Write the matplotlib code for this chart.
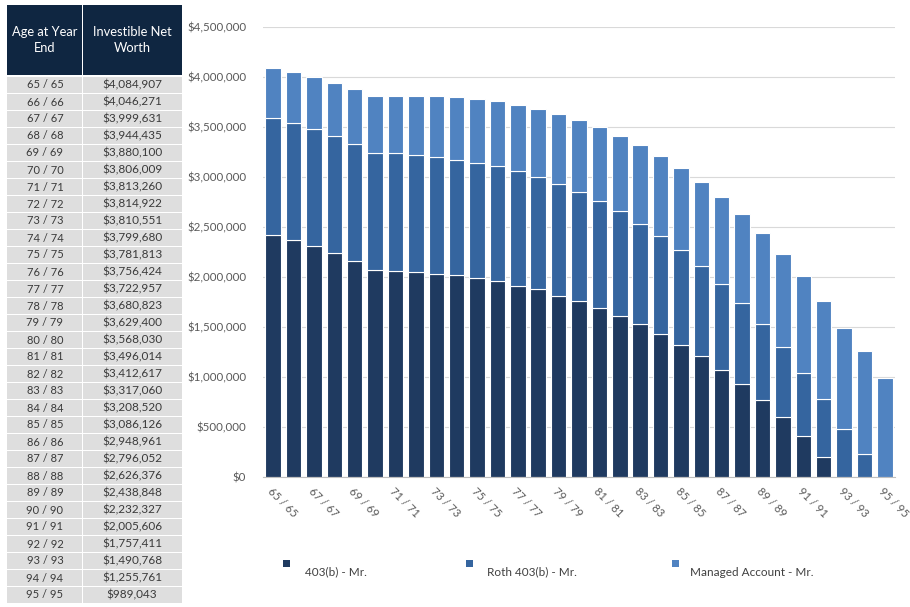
import matplotlib
matplotlib.use("Agg")
import matplotlib.pyplot as plt
from matplotlib.patches import Rectangle
from matplotlib.ticker import FuncFormatter

plt.rcParams['font.family'] = ['Lato', 'DejaVu Sans']

ages = [f"{a} / {a}" for a in range(65, 96)]
net_worth = [4084907, 4046271, 3999631, 3944435, 3880100, 3806009, 3813260, 3814922,
             3810551, 3799680, 3781813, 3756424, 3722957, 3680823, 3629400, 3568030,
             3496014, 3412617, 3317060, 3208520, 3086126, 2948961, 2796052, 2626376,
             2438848, 2232327, 2005606, 1757411, 1490768, 1255761, 989043]
b403 = [2425000, 2370000, 2310000, 2245000, 2160000, 2075000, 2065000, 2050000,
        2035000, 2020000, 1995000, 1960000, 1910000, 1880000, 1815000, 1765000,
        1695000, 1615000, 1530000, 1435000, 1325000, 1210000, 1070000, 930000,
        775000, 600000, 410000, 205000, 0, 0, 0]
roth = [1167000, 1172000, 1175000, 1167000, 1172000, 1167000, 1177000, 1175000,
        1163000, 1152000, 1150000, 1148000, 1148000, 1118000, 1113000, 1087000,
        1067000, 1043000, 1005000, 973000, 943000, 898000, 865000, 812000,
        757000, 702000, 635000, 573000, 485000, 228000, 0]
managed = [493000, 504000, 515000, 532000, 548000, 564000, 571000, 590000,
           613000, 628000, 637000, 648000, 665000, 683000, 701000, 716000,
           734000, 755000, 782000, 801000, 818000, 841000, 861000, 884000,
           907000, 930000, 961000, 979000, 1006000, 1028000, 989000]
series_names = ["403(b) - Mr.", "Roth 403(b) - Mr.", "Managed Account - Mr."]
colors = ["#1f3a60", "#35659f", "#5083c1"]
table_headers = ["Age at Year\nEnd", "Investible Net\nWorth"]

W, H = 910, 607
fig = plt.figure(figsize=(W / 100, H / 100), dpi=100)

def fx(x):
    return x / W

def fy(y):
    return 1 - y / H

# ---- table ----
hdr_col = "#0f2641"
fig.add_artist(Rectangle((fx(7), fy(75)), fx(175), 70 / H, transform=fig.transFigure,
                         facecolor=hdr_col, edgecolor="none"))
fig.add_artist(Rectangle((fx(81.5), fy(75)), fx(1.5), 70 / H, transform=fig.transFigure,
                         facecolor="white", edgecolor="none"))
fig.text(fx(45), fy(40), table_headers[0], color="white", ha="center", va="center",
         fontsize=9.3, linespacing=1.3)
fig.text(fx(132), fy(40), table_headers[1], color="white", ha="center", va="center",
         fontsize=9.3, linespacing=1.3)
row_h = 17.0
y0 = 77
for i, (lab, v) in enumerate(zip(ages, net_worth)):
    top = y0 + i * row_h
    for (x0, x1) in [(7, 81.5), (83, 182)]:
        fig.add_artist(Rectangle((fx(x0), fy(top + row_h - 1)), fx(x1 - x0), (row_h - 1) / H,
                                 transform=fig.transFigure, facecolor="#dedede",
                                 edgecolor="none"))
    fig.text(fx(45), fy(top + row_h / 2 - 0.5), lab, ha="center", va="center",
             fontsize=8.0, color="#3a3a3a")
    fig.text(fx(132), fy(top + row_h / 2 - 0.5), f"${v:,.0f}", ha="center", va="center",
             fontsize=8.5, color="#3a3a3a")

# ---- chart ----
ax = fig.add_axes([fx(263), fy(477), (895 - 263) / W, (477 - 27) / H])
x = list(range(len(ages)))
bottom2 = [a for a in b403]
bottom3 = [a + b for a, b in zip(b403, roth)]
width = 0.76
ax.bar(x, b403, width, color=colors[0], edgecolor="white", linewidth=0.8, zorder=3)
ax.bar(x, roth, width, bottom=bottom2, color=colors[1], edgecolor="white", linewidth=0.8, zorder=3)
ax.bar(x, managed, width, bottom=bottom3, color=colors[2], edgecolor="white", linewidth=0.8, zorder=3)

ax.set_xlim(-0.5, len(ages) - 0.5)
ax.set_ylim(0, 4500000)
ax.set_yticks(range(0, 4500001, 500000))
ax.yaxis.set_major_formatter(FuncFormatter(lambda v, p: f"${v:,.0f}"))
ax.grid(axis="y", color="#d9d9d9", linewidth=0.8, zorder=0)
for s in ["top", "right", "left"]:
    ax.spines[s].set_visible(False)
ax.spines["bottom"].set_color("#bfbfbf")
ax.spines["bottom"].set_zorder(4)
ax.tick_params(axis="y", length=0, labelsize=8.3, labelcolor="#595959", pad=12)
ax.tick_params(axis="x", length=0, labelsize=8, labelcolor="#595959", pad=6)
ax.set_xticks(x[::2])
ax.set_xticklabels(ages[::2], rotation=-45, ha="left", va="top", rotation_mode="anchor")

# ---- legend ----
leg_pos = [(283, 305), (466, 487), (672, 690)]
for (sx, tx), name, c in zip(leg_pos, series_names, colors):
    fig.add_artist(Rectangle((fx(sx), fy(567)), fx(7), 7 / H, transform=fig.transFigure,
                             facecolor=c, edgecolor="none"))
    fig.text(fx(tx), fy(572), name, ha="left", va="center", fontsize=8.5, color="#404040")

fig.savefig("out.png", dpi=100)
